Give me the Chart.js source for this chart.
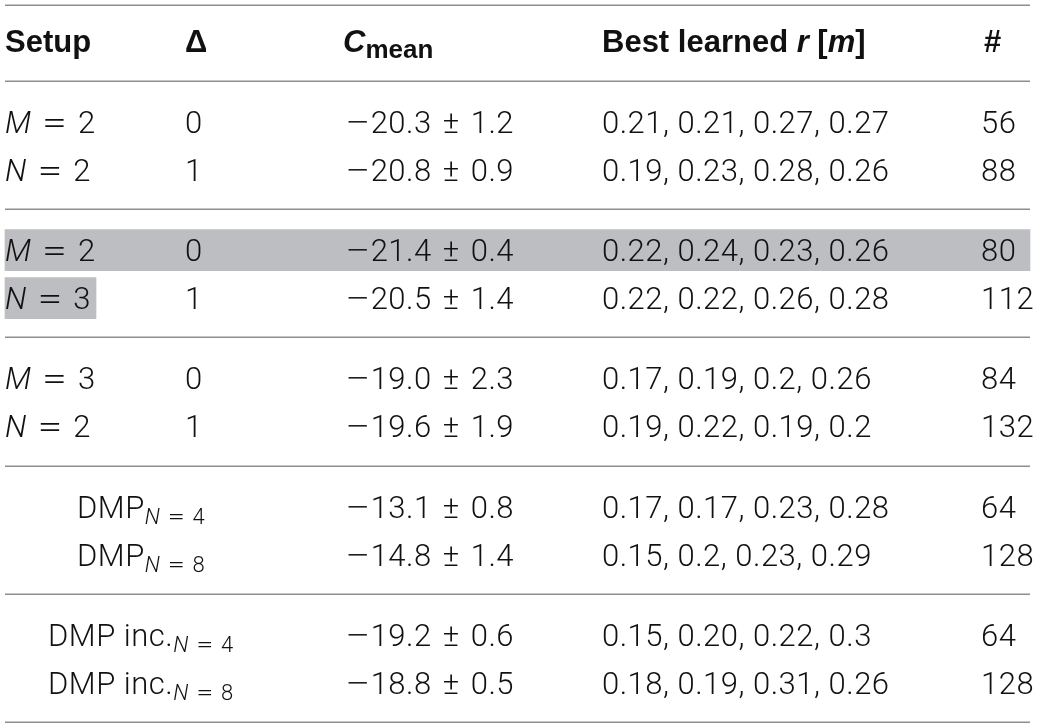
<!DOCTYPE html>
<html>
<head>
<meta charset="utf-8">
<script src="https://cdn.jsdelivr.net/npm/chart.js@4.4.0/dist/chart.umd.min.js"></script>
<style>
  html, body { margin: 0; padding: 0; background: #fff; }
  #wrap { width: 1043px; height: 727px; position: relative; }
</style>
</head>
<body>
<div id="wrap"><canvas id="myChart"></canvas></div>
<script>
'use strict';
// table rows, top to bottom (two rows per group)
let setupVar = ['M', 'N', 'M', 'N', 'M', 'N'];
let setupVal = [2, 2, 2, 3, 3, 2];
let dmpNames = ['DMP', 'DMP', 'DMP inc.', 'DMP inc.'];
let dmpN = [4, 8, 4, 8];
let deltas = [0, 1, 0, 1, 0, 1];
let cMean = [-20.3, -20.8, -21.4, -20.5, -19.0, -19.6, -13.1, -14.8, -19.2, -18.8];
let cStd = [1.2, 0.9, 0.4, 1.4, 2.3, 1.9, 0.8, 1.4, 0.6, 0.5];
let bestR = [
  ['0.21', '0.21', '0.27', '0.27'],
  ['0.19', '0.23', '0.28', '0.26'],
  ['0.22', '0.24', '0.23', '0.26'],
  ['0.22', '0.22', '0.26', '0.28'],
  ['0.17', '0.19', '0.2', '0.26'],
  ['0.19', '0.22', '0.19', '0.2'],
  ['0.17', '0.17', '0.23', '0.28'],
  ['0.15', '0.2', '0.23', '0.29'],
  ['0.15', '0.20', '0.22', '0.3'],
  ['0.18', '0.19', '0.31', '0.26']
];
let counts = [56, 88, 80, 112, 84, 132, 64, 128, 64, 128];
let highlightRow = 2;  // whole row shaded
let highlightCell = 3; // only the setup cell shaded

// layout
const colX = { setup: 5, delta: 185, c: 345, best: 602, count: 981 };
const dmpX = [77, 77, 48, 48];
const tableLeft = 5, tableRight = 1030, setupRight = 96;
const topRule = 5, headRule = 81, groupH = 128.2, rowPad = 41, rowH = 48, bandH = 41;
const headY = 41, capHalf = 11;
const nGroups = 5;
const sp = '\u2004'; // wider space used around = and ±

function rowY(i) {
  let g = Math.floor(i / 2);
  return headRule + g * groupH + rowPad + (i % 2) * rowH;
}

const fonts = {
  r: { f: '300 31px Roboto', dy: 0, ls: '0.5px' },
  i: { f: 'italic 300 31px Roboto', dy: 0, ls: '0px' },
  eq: { f: '300 31px Roboto', dy: 0, ls: '0px', sx: 1.45 },
  sub: { f: '300 22px Roboto', dy: 6, ls: '0.3px' },
  subi: { f: 'italic 300 22px Roboto', dy: 6, ls: '0px' },
  subeq: { f: '300 22px Roboto', dy: 6, ls: '0px', sx: 1.4 },
  b: { f: 'bold 31px "Liberation Sans"', dy: 0, ls: '0px' },
  bi: { f: 'italic bold 31px "Liberation Sans"', dy: 0, ls: '0px' },
  bsub: { f: 'bold 26px "Liberation Sans"', dy: 6, ls: '0px' }
};

function drawRuns(ctx, runs, x, y) {
  for (let k = 0; k < runs.length; k++) {
    let st = fonts[runs[k].s];
    let sx = st.sx || 1;
    ctx.font = st.f;
    ctx.letterSpacing = st.ls;
    ctx.save();
    ctx.translate(x, y + st.dy);
    ctx.scale(sx, 1);
    ctx.fillText(runs[k].t, 0, 0);
    ctx.restore();
    x += ctx.measureText(runs[k].t).width * sx;
  }
}

function cRuns(m, s) {
  let runs = [];
  if (m < 0) runs.push({ t: '\u2212', s: 'eq' });
  runs.push({ t: Math.abs(m).toFixed(1) + sp + '\u00b1' + sp + s.toFixed(1), s: 'r' });
  return runs;
}

let header = [
  [colX.setup, [{ t: 'Setup', s: 'b' }]],
  [colX.delta, [{ t: '\u0394', s: 'b' }]],
  [colX.c - 2, [{ t: 'C', s: 'bi' }, { t: 'mean', s: 'bsub' }]],
  [colX.best, [{ t: 'Best learned ', s: 'b' }, { t: 'r', s: 'bi' }, { t: ' [', s: 'b' }, { t: 'm', s: 'bi' }, { t: ']', s: 'b' }]],
  [colX.count + 3, [{ t: '#', s: 'b' }]]
];

const tablePlugin = {
  id: 'tablePlugin',
  afterDatasetsDraw(chart) {
    let ctx = chart.ctx;
    let xs = chart.scales.x, ys = chart.scales.y;
    ctx.save();
    // rules
    ctx.strokeStyle = '#8e8e8e';
    ctx.lineWidth = 1.5;
    let rules = [topRule, headRule];
    for (let g = 1; g <= nGroups; g++) rules.push(headRule + g * groupH);
    rules.forEach(function (r) {
      let py = Math.round(ys.getPixelForValue(r)) + 0.25;
      ctx.beginPath();
      ctx.moveTo(xs.getPixelForValue(tableLeft), py);
      ctx.lineTo(xs.getPixelForValue(tableRight), py);
      ctx.stroke();
    });
    // text
    ctx.fillStyle = '#111';
    ctx.textBaseline = 'alphabetic';
    header.forEach(function (h) {
      drawRuns(ctx, h[1], xs.getPixelForValue(h[0]), ys.getPixelForValue(headY + capHalf));
    });
    for (let i = 0; i < cMean.length; i++) {
      let y = ys.getPixelForValue(rowY(i) + capHalf);
      if (i < setupVar.length) {
        drawRuns(ctx, [{ t: setupVar[i], s: 'i' }, { t: sp, s: 'r' }, { t: '=', s: 'eq' }, { t: sp + setupVal[i], s: 'r' }], xs.getPixelForValue(colX.setup), y);
        drawRuns(ctx, [{ t: String(deltas[i]), s: 'r' }], xs.getPixelForValue(colX.delta), y);
      } else {
        let j = i - setupVar.length;
        drawRuns(ctx, [{ t: dmpNames[j], s: 'r' }, { t: 'N', s: 'subi' }, { t: sp, s: 'sub' }, { t: '=', s: 'subeq' }, { t: sp + dmpN[j], s: 'sub' }], xs.getPixelForValue(dmpX[j]), y);
      }
      drawRuns(ctx, cRuns(cMean[i], cStd[i]), xs.getPixelForValue(colX.c), y);
      drawRuns(ctx, [{ t: bestR[i].join(', '), s: 'r' }], xs.getPixelForValue(colX.best), y);
      drawRuns(ctx, [{ t: String(counts[i]), s: 'r' }], xs.getPixelForValue(colX.count), y);
    }
    ctx.restore();
  }
};

let ctx = document.getElementById('myChart').getContext('2d');
let myChart = new Chart(ctx, {
  type: 'bar',
  data: {
    datasets: [{
      label: 'highlight',
      data: [
        { x: [tableLeft, tableRight], y: rowY(highlightRow) },
        { x: [tableLeft, setupRight], y: rowY(highlightCell) }
      ],
      backgroundColor: '#bdbec1',
      borderWidth: 0,
      barThickness: bandH
    }]
  },
  options: {
    indexAxis: 'y',
    responsive: true,
    maintainAspectRatio: false,
    animation: false,
    layout: { padding: 0 },
    plugins: { legend: { display: false }, tooltip: { enabled: false } },
    scales: {
      x: { type: 'linear', min: 0, max: 1043, offset: false, display: false },
      y: { type: 'linear', min: 0, max: 727, reverse: true, offset: false, display: false }
    }
  },
  plugins: [tablePlugin]
});
</script>
</body>
</html>
